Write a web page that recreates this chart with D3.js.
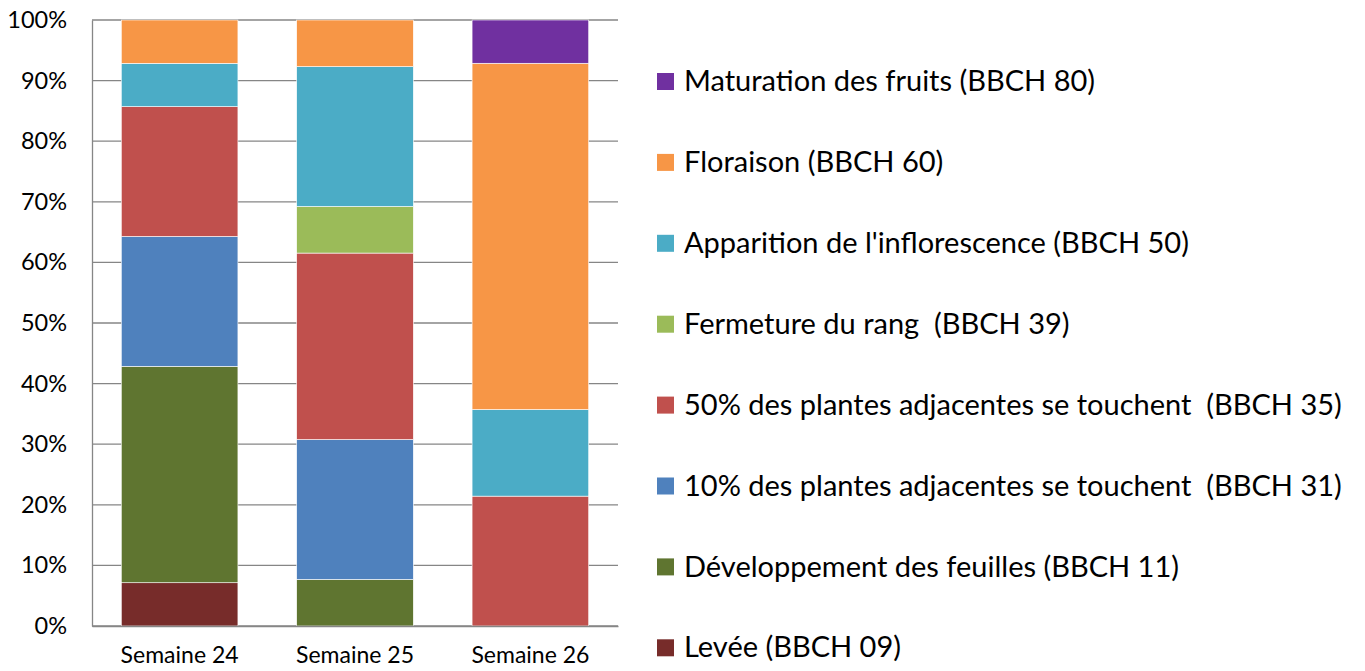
<!DOCTYPE html>
<html>
<head>
<meta charset="utf-8">
<script src="https://cdn.jsdelivr.net/npm/d3@7"></script>
<style>
  body { margin: 0; background: #fff; }
  svg text { font-family: Lato, "Open Sans", sans-serif; fill: #000; }
</style>
</head>
<body>
<svg id="chart" width="1365" height="671"></svg>
<script>
// weeks on the x axis
const weeks = ["Semaine 24", "Semaine 25", "Semaine 26"];

// stages, bottom to top
const stages = [
  "Levée (BBCH 09)",
  "Développement des feuilles (BBCH 11)",
  "10% des plantes adjacentes se touchent  (BBCH 31)",
  "50% des plantes adjacentes se touchent  (BBCH 35)",
  "Fermeture du rang  (BBCH 39)",
  "Apparition de l'inflorescence (BBCH 50)",
  "Floraison (BBCH 60)",
  "Maturation des fruits (BBCH 80)",
];
const stageColors = ["#772C2A", "#5F7530", "#4F81BD", "#C0504D", "#9BBB59", "#4BACC6", "#F79646", "#7030A0"];

// share per stage (%) for each week, same order as stages
const week24 = [7.14, 35.71, 21.43, 21.43, 0, 7.14, 7.15, 0];
const week25 = [0, 7.69, 23.08, 30.77, 7.69, 23.08, 7.69, 0];
const week26 = [0, 0, 0, 21.43, 0, 14.29, 57.14, 7.14];

const yTicks = [0, 10, 20, 30, 40, 50, 60, 70, 80, 90, 100];

const margin = { top: 20, left: 92, right: 747, bottom: 45 };
const width = 1365 - margin.left - margin.right;
const height = 671 - margin.top - margin.bottom;

const rows = weeks.map((w, i) => {
  const vals = [week24, week25, week26][i];
  const r = { week: w };
  stages.forEach((s, j) => (r[s] = vals[j]));
  return r;
});

const series = d3.stack().keys(stages)(rows);

const xScale = d3.scaleBand().domain(weeks).range([0, width]).paddingInner(0.335).paddingOuter(0.167);
const yScale = d3.scaleLinear().domain([0, 100]).range([height, 0]);

const svg = d3.select("#chart");
const g = svg.append("g").attr("transform", `translate(${margin.left},${margin.top})`);

// gridlines
g.append("g")
  .selectAll("line")
  .data(yTicks)
  .enter()
  .append("line")
  .attr("x1", 0)
  .attr("x2", width)
  .attr("y1", (d) => yScale(d))
  .attr("y2", (d) => yScale(d))
  .attr("stroke", "#868686")
  .attr("stroke-width", 1.3);

// bars
g.append("g")
  .selectAll("g")
  .data(series)
  .enter()
  .append("g")
  .attr("fill", (d, i) => stageColors[i])
  .selectAll("rect")
  .data((d) => d)
  .enter()
  .append("rect")
  .attr("x", (d) => xScale(d.data.week))
  .attr("y", (d) => yScale(d[1]))
  .attr("width", xScale.bandwidth())
  .attr("height", (d) => yScale(d[0]) - yScale(d[1]))
  .attr("stroke", "#fff")
  .attr("stroke-width", (d) => (d[1] - d[0] > 0 ? 0.6 : 0));

// y axis
const yAxis = g.append("g")
  .call(d3.axisLeft(yScale).tickValues(yTicks).tickFormat((d) => d + "%").tickSize(0).tickPadding(25));
yAxis.select(".domain").attr("stroke", "#868686").attr("stroke-width", 1.3);
yAxis.selectAll("text").style("font-size", "23.5px");

// x axis
const xAxis = g.append("g")
  .attr("transform", `translate(0,${height})`)
  .call(d3.axisBottom(xScale).tickSize(0).tickPadding(21));
xAxis.select(".domain").attr("stroke", "#868686").attr("stroke-width", 1.3);
xAxis.selectAll("text").style("font-size", "23px");

// legend, top entry is the last stage
const legend = svg.append("g").attr("transform", "translate(657,0)");
const legendItems = stages.slice().reverse();
const legendRow = legend
  .selectAll("g")
  .data(legendItems)
  .enter()
  .append("g")
  .attr("transform", (d, i) => `translate(0,${81 + i * 80.9})`);
legendRow
  .append("rect")
  .attr("x", 0)
  .attr("y", -8)
  .attr("width", 17)
  .attr("height", 17)
  .attr("fill", (d) => stageColors[stages.indexOf(d)]);
legendRow
  .append("text")
  .attr("x", 27)
  .attr("y", 0)
  .attr("dy", "0.35em")
  .style("font-size", "29px")
  .style("white-space", "pre")
  .text((d) => d);
</script>
</body>
</html>
